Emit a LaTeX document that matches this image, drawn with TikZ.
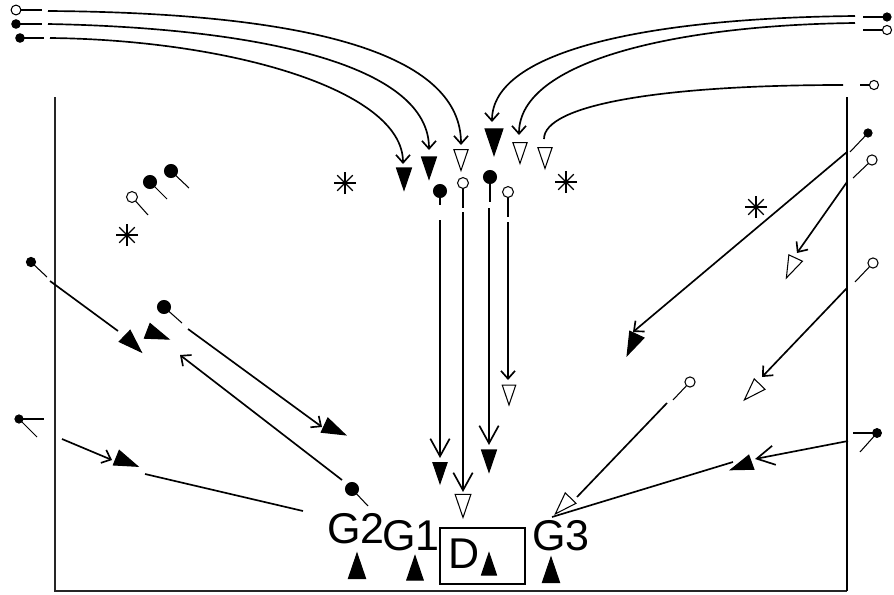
\documentclass[tikz,border=0pt]{standalone}
\usepackage{fontspec}
\setmainfont{Liberation Sans}
\usetikzlibrary{arrows.meta}
\tikzset{
	ln/.style={line width=0.95pt},
	mv/.style={ln,-{Straight Barb[length=4.5pt,width=8pt]}},
	mvl/.style={ln,-{Straight Barb[length=10pt,width=11pt]}},
	dart/.pic={\path[pic actions] (-11,-7.5) -- (11,0) -- (-11,7.5) -- cycle;},
	full/.style={draw=black,fill=black,line width=0.6pt},
	hollow/.style={draw=black,fill=white,line width=0.6pt},
	lbl/.style={font=\fontsize{24.5}{26}\selectfont,inner sep=0pt,anchor=base}
}
\begin{document}
\begin{tikzpicture}[x=0.02cm,y=-0.02cm]
		\useasboundingbox (0,0) rectangle (894,595);
		% frame
		\draw[line width=0.6pt,black!85] (55,97) -- (55,591) -- (847,591);
		\draw[line width=0.6pt] (847,591) -- (847,97);
		% long runs from the corners
		\draw[mv] (48,11) .. controls (330,13) and (461,60) .. (461,145);
		\draw[mv] (48,24) .. controls (260,28) and (429,65) .. (429,150);
		\draw[mv] (50,38) .. controls (230,40) and (403,90) .. (403,164);
		\draw[mv] (855,16) .. controls (650,18) and (492,50) .. (492,122);
		\draw[mv] (855,23) .. controls (680,25) and (519,60) .. (519,135);
		\draw[ln] (843,85) .. controls (660,85) and (544,105) .. (544,139);
		% straight runs
		\draw[mvl] (440,220) -- (440,458);
		\draw[mvl] (463,212) -- (463,492);
		\draw[mvl] (489,208) -- (489,445);
		\draw[mv] (508,222) -- (508,380);
		\draw[ln] (50,281) -- (118,331);
		\draw[mv] (188,329) -- (322,427);
		\draw[mv] (342,480) -- (180,355);
		\draw[mv] (62,439) -- (112,460);
		\draw[ln] (145,474) -- (303,511);
		\draw[mv] (847,152) -- (633,332);
		\draw[mv] (847,182) -- (797,253);
		\draw[mv] (847,288) -- (762,377);
		\draw[ln] (667,403) -- (577,497);
		\draw[ln] (552,517) -- (733,462);
		\draw[mvl] (848,441) -- (755,459);
		% pins
		\draw[line width=0.6pt] (19,419) -- (37,437);
		\draw[line width=0.6pt] (877,433) -- (860,452);
		\foreach \x/\y/\u/\v/\r/\f in {16/10/42/10/2.8pt/white, 16/24/42/24/2.4pt/black,
			20/38/44/38/2.4pt/black, 887/17/863/17/2.3pt/black, 887/30/863/30/2.6pt/white,
			874/85/860/85/2.6pt/white, 132/197/148/215/3.1pt/white, 150/182/167/199/3.7pt/black,
			171/171/189/188/3.7pt/black, 440/191/440/205/3.7pt/black, 463/183/463/208/3.1pt/white,
			490/177/490/202/3.7pt/black, 508/192/508/217/3.1pt/white, 31/262/47/277/2.6pt/black,
			164/307/182/323/3.7pt/black, 352/489/368/506/3.7pt/black, 19/419/44/419/2.3pt/black,
			868/133/850/152/2.3pt/black, 872/160/853/178/2.9pt/white, 873/263/855/282/2.9pt/white,
			690/382/673/400/2.9pt/white, 877/433/853/433/2.5pt/black}
		{
			\draw[line width=0.6pt] (\x,\y) -- (\u,\v);
			\draw[line width=0.6pt,fill=\f] (\x,\y) circle[radius=\r];
		}
		% markers
		\foreach \x/\y/\a/\s/\k in {404/179/-90/1/full, 429/168/-90/1/full, 461/160/-90/0.95/hollow,
			494/142/-90/1.2/full, 520/153/-90/0.95/hollow, 545/158/-90/0.95/hollow,
			440/473/-90/0.95/full, 463/506/-90/1.05/hollow, 489/461/-90/1/full, 509/395/-90/0.9/hollow,
			133/344/-44/1.05/full, 335/430/-25/1.05/full, 158/335/-21/1.05/full, 127/462/-22/1.05/full,
			632/345/245/1.05/full, 791/268/245/1/hollow, 752/392/226/1/hollow, 563/506/226/1/hollow,
			741/466/200/1/full, 357/566/90/1.15/full, 415/568/90/1.1/full, 489/564/90/1/full,
			551/570/90/1.15/full}
		{
			\pic[\k,rotate=\a,scale=\s] at (\x,\y) {dart};
		}
		% stars
		\foreach \x/\y in {127/235, 345/183, 566/182, 756/207}
		{
			\foreach \a in {0,45,90,135}
			{
				\draw[line width=0.7pt] (\x,\y) +(\a:11) -- +(\a+180:11);
			}
		}
		% labels
		\draw[line width=0.6pt] (440,528) rectangle (525,584);
		\node[lbl] (g2) at (356,543) {G2};
		\node[lbl] (g1) at (411,550) {G1};
		\node[lbl] (g3) at (561,550) {G3};
		\node[lbl] (d) at (464,568) {D};
\end{tikzpicture}
\end{document}
